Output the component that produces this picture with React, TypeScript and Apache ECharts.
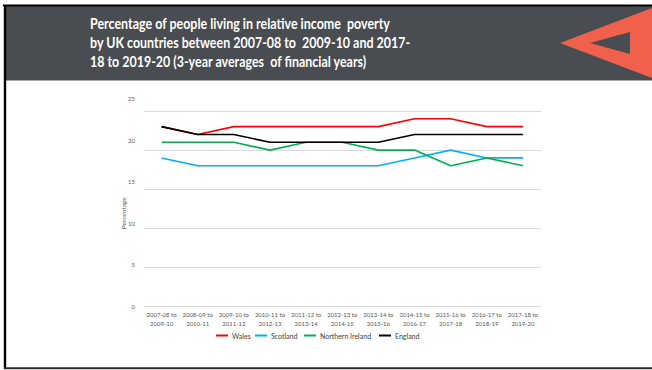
import React, { useEffect, useRef } from "react";
import * as echarts from "echarts";

const categories = [
  "2007-08 to\n2009-10",
  "2008-09 to\n2010-11",
  "2009-10 to\n2011-12",
  "2010-11 to\n2012-13",
  "2011-12 to\n2013-14",
  "2012-13 to\n2014-15",
  "2013-14 to\n2015-16",
  "2014-15 to\n2016-17",
  "2015-16 to\n2017-18",
  "2016-17 to\n2018-19",
  "2017-18 to\n2019-20",
];

const wales = [23, 22, 23, 23, 23, 23, 23, 24, 24, 23, 23];
const scotland = [19, 18, 18, 18, 18, 18, 18, 19, 20, 19, 19];
const northernIreland = [21, 21, 21, 20, 21, 21, 20, 20, 18, 19, 18];
const england = [23, 22, 22, 21, 21, 21, 21, 22, 22, 22, 22];

const seriesNames = ["Wales", "Scotland", "Northern Ireland", "England"];
const seriesColors = ["#ff0000", "#00b0f0", "#00b050", "#000000"];
const seriesData = [wales, scotland, northernIreland, england];

const yMin = 0;
const yMax = 25;
const yStep = 5;

const titleText =
  "Percentage of people living in relative income  poverty\nby UK countries between 2007-08 to  2009-10 and 2017-\n18 to 2019-20 (3-year averages  of financial years)";
const yAxisTitle = "Percentage";

export default function App() {
  const ref = useRef<HTMLDivElement>(null);

  useEffect(() => {
    if (!ref.current) return;
    const chart = echarts.init(ref.current, null, { renderer: "svg" });
    const legendLefts = [216, 255, 304, 379];
    chart.setOption({
      animation: false,
      backgroundColor: "#ffffff",
      textStyle: { fontFamily: "Lato" },
      graphic: {
        elements: [
          { type: "rect", shape: { x: 6, y: 6, width: 646, height: 74 }, style: { fill: "#494c50" }, z: 1 },
          { type: "line", shape: { x1: 6, y1: 80.5, x2: 652, y2: 80.5 }, style: { stroke: "#a3a7ab", lineWidth: 1 }, z: 2 },
          { type: "line", shape: { x1: 3, y1: 5.5, x2: 652, y2: 5.5 }, style: { stroke: "#000000", lineWidth: 2 }, z: 3 },
          { type: "line", shape: { x1: 5, y1: 5, x2: 5, y2: 369 }, style: { stroke: "#000000", lineWidth: 2.4 }, z: 3 },
          { type: "line", shape: { x1: 4, y1: 368.2, x2: 652, y2: 368.2 }, style: { stroke: "#2a2a2a", lineWidth: 2 }, z: 3 },
          {
            type: "polygon",
            shape: { points: [[560, 43], [652, 8], [652, 78]] },
            style: { fill: "#f0604a" },
            z: 4,
          },
          {
            type: "polygon",
            shape: { points: [[590, 43], [630, 32], [630, 54]] },
            style: { fill: "#494c50" },
            z: 5,
          },
          {
            type: "text",
            x: 90,
            y: 14.5,
            scaleX: 0.86,
            style: {
              text: titleText,
              fill: "#ffffff",
              font: "bold 14.5px Lato",
              lineHeight: 19,
            },
            z: 6,
          },
        ],
      },
      legend: seriesNames.map((n, i) => ({
        data: [n],
        left: legendLefts[i],
        top: 332,
        icon: "rect",
        itemWidth: 12,
        itemHeight: 2,
        itemGap: 5,
        padding: 0,
        textStyle: { fontSize: 7, color: "#404040", fontFamily: "Lato", padding: [0, 0, 0, -1] },
      })),
      grid: [
        { left: 143.5, right: 111, top: 111, bottom: 63.5 },
        { left: 143.5, right: 111, top: 98.7, bottom: 64 },
      ],
      xAxis: [
        {
          type: "category",
          gridIndex: 0,
          data: categories,
          boundaryGap: true,
          axisLine: { show: false },
          axisTick: { show: false },
          axisLabel: {
            interval: 0,
            fontSize: 6,
            lineHeight: 9,
            color: "#595959",
            margin: 3,
            fontFamily: "Lato",
          },
        },
        { type: "value", gridIndex: 1, show: false, min: 0, max: 1 },
      ],
      yAxis: [
        {
          type: "value",
          gridIndex: 0,
          min: yMin,
          max: yMax,
          interval: yStep,
          axisLabel: { show: false },
          axisLine: { show: false },
          axisTick: { show: false },
          splitLine: { lineStyle: { color: "#d9d9d9", width: 1.2 } },
          name: yAxisTitle,
          nameLocation: "middle",
          nameGap: 17,
          nameTextStyle: { fontSize: 6.5, color: "#595959", fontFamily: "Lato", padding: [0, 9, 0, 0] },
        },
        {
          type: "value",
          gridIndex: 1,
          min: yMin,
          max: yMax,
          interval: yStep,
          axisLabel: { fontSize: 6, color: "#595959", margin: 8.5, fontFamily: "Lato" },
          axisLine: { show: false },
          axisTick: { show: false },
          splitLine: { show: false },
        },
      ],
      series: seriesNames.map((n, i) => ({
        name: n,
        type: "line",
        xAxisIndex: 0,
        yAxisIndex: 0,
        data: seriesData[i],
        symbol: "none",
        color: seriesColors[i],
        lineStyle: { color: seriesColors[i], width: 1.6 },
      })),
    });
    return () => chart.dispose();
  }, []);

  return (
    <div
      ref={ref}
      style={{ position: "fixed", left: 0, top: 0, width: 652, height: 370, background: "#fff" }}
    />
  );
}
